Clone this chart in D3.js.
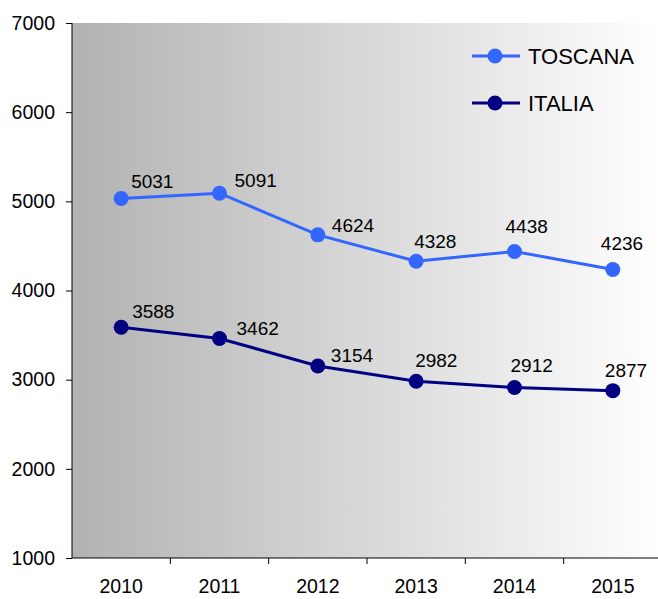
<!DOCTYPE html>
<html>
<head>
<meta charset="utf-8">
<script src="https://cdn.jsdelivr.net/npm/d3@7"></script>
<style>
  body { margin: 0; background: #fff; }
  svg text { font-family: "Liberation Sans", Arial, sans-serif; }
</style>
</head>
<body>
<div id="chart"></div>
<script>
// ------------------------------------------------------------------
//  data
// ------------------------------------------------------------------
const years = ["2010", "2011", "2012", "2013", "2014", "2015"]
const toscana = [5031, 5091, 4624, 4328, 4438, 4236]
const italia = [3588, 3462, 3154, 2982, 2912, 2877]
const yTicks = [1000, 2000, 3000, 4000, 5000, 6000, 7000]

// label offsets (px) from each point, placed by hand like in the original
const toscanaLabelOff = [[10, -11], [15, -6], [14, -3], [-2, -13], [-9, -18], [-12, -19]]
const italiaLabelOff = [[11, -9], [17, -3], [13, -4], [-1, -14], [-4, -16], [-8, -14]]

// ------------------------------------------------------------------
const margin = { top: 23, right: -4, bottom: 41, left: 72 }
const width = 658 - margin.left - margin.right
const height = 599 - margin.top - margin.bottom

const svg = d3.select("#chart").append("svg")
    .attr("width", 658)
    .attr("height", 599)

const defs = svg.append("defs")
const grad = defs.append("linearGradient")
    .attr("id", "bg")
    .attr("x1", "0%").attr("x2", "100%")
    .attr("y1", "0%").attr("y2", "0%")
grad.append("stop").attr("offset", "0%").attr("stop-color", "#b2b2b2")
grad.append("stop").attr("offset", "100%").attr("stop-color", "#ffffff")

const g = svg.append("g")
    .attr("transform", "translate(" + margin.left + "," + margin.top + ")")

// set the ranges
const x = d3.scaleBand()
    .domain(years)
    .range([0, width])

const y = d3.scaleLinear()
    .domain([1000, 7000])
    .range([height, 0])

// background
g.append("rect")
    .attr("width", width)
    .attr("height", height)
    .attr("fill", "url(#bg)")

// y axis
const yAxis = g.append("g")
    .call(d3.axisLeft(y).tickValues(yTicks).tickFormat(d3.format("d")).tickSize(6).tickPadding(11))
yAxis.select(".domain").attr("d", "M0," + height + "V0").attr("stroke", "#000")
yAxis.selectAll(".tick line").attr("stroke", "#000")
yAxis.selectAll(".tick text")
    .attr("font-size", "19.5px")
    .attr("fill", "#000")
    .attr("font-family", "Liberation Sans, Arial, sans-serif")

// x axis, ticks on band boundaries
const xAxis = g.append("g")
    .attr("transform", "translate(0," + height + ")")
    .call(d3.axisBottom(x).tickSize(0).tickPadding(21))
xAxis.select(".domain").attr("d", "M0,0H" + width).attr("stroke", "#000")
xAxis.selectAll(".tick text")
    .attr("font-size", "19.5px")
    .attr("fill", "#000")
    .attr("font-family", "Liberation Sans, Arial, sans-serif")
xAxis.selectAll(".bound")
    .data(years.slice(1))
    .enter().append("line")
    .attr("x1", d => x(d)).attr("x2", d => x(d))
    .attr("y1", 0).attr("y2", 6)
    .attr("stroke", "#000")

const cx = d => x(d) + x.bandwidth() / 2

function drawSeries(values, color, offs) {
    const pts = years.map((yr, i) => ({ yr: yr, v: values[i], off: offs[i] }))
    const line = d3.line()
        .x(d => cx(d.yr))
        .y(d => y(d.v))
    g.append("path")
        .datum(pts)
        .attr("d", line)
        .attr("fill", "none")
        .attr("stroke", color)
        .attr("stroke-width", 3)
    g.selectAll(null)
        .data(pts)
        .enter().append("circle")
        .attr("cx", d => cx(d.yr))
        .attr("cy", d => y(d.v))
        .attr("r", 7.5)
        .attr("fill", color)
    g.selectAll(null)
        .data(pts)
        .enter().append("text")
        .attr("x", d => cx(d.yr) + d.off[0])
        .attr("y", d => y(d.v) + d.off[1])
        .attr("font-size", "19px")
        .attr("fill", "#000")
        .text(d => d.v)
}

drawSeries(toscana, "#3366ff", toscanaLabelOff)
drawSeries(italia, "#000080", italiaLabelOff)

// legend
const legend = [{ name: "TOSCANA", color: "#3366ff" }, { name: "ITALIA", color: "#000080" }]
const lg = svg.append("g").attr("transform", "translate(472,56)")
const item = lg.selectAll("g")
    .data(legend)
    .enter().append("g")
    .attr("transform", (d, i) => "translate(0," + i * 47 + ")")
item.append("line")
    .attr("x1", 0).attr("x2", 48)
    .attr("stroke", d => d.color)
    .attr("stroke-width", 3)
item.append("circle")
    .attr("cx", 23).attr("r", 7.5)
    .attr("fill", d => d.color)
item.append("text")
    .attr("x", 56).attr("y", 8)
    .attr("font-size", "22px")
    .attr("fill", "#000")
    .text(d => d.name)
</script>
</body>
</html>
